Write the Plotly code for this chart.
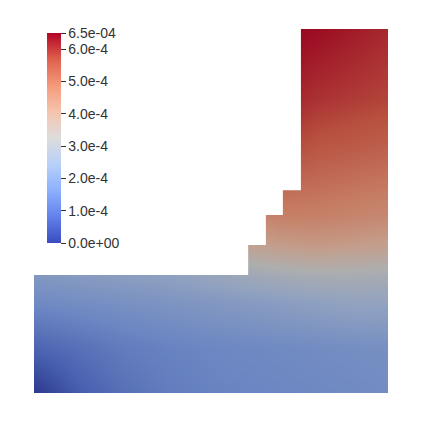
import plotly.graph_objects as go

# mesh nodes (domain width = 1)
x_nodes = [0.0, 0.125, 0.25, 0.375, 0.5, 0.6, 0.7, 0.8, 0.9, 1.0]
y_nodes = [0.0, 0.13, 0.26, 0.333, 0.42, 0.5, 0.6, 0.7, 0.83, 1.028]

# field values, units of 1e-4
field = [
    [0.0, 0.7, 1.15, 1.4, 1.55, 1.6, 1.65, 1.7, 1.75, 1.8],
    [0.9, 1.15, 1.4, 1.55, 1.65, 1.7, 1.75, 1.8, 1.85, 1.9],
    [1.75, 1.85, 1.95, 2.05, 2.15, 2.25, 2.35, 2.45, 2.55, 2.55],
    [2.15, 2.25, 2.35, 2.45, 2.65, 2.85, 3.0, 3.1, 3.1, 3.05],
    [2.6, 2.8, 3.0, 3.3, 3.6, 3.9, 4.1, 4.2, 4.1, 4.0],
    [3.2, 3.5, 3.8, 4.1, 4.4, 4.6, 4.8, 4.8, 4.7, 4.6],
    [4.0, 4.3, 4.6, 4.8, 5.0, 5.2, 5.3, 5.2, 5.1, 5.0],
    [4.6, 4.9, 5.2, 5.4, 5.5, 5.7, 5.8, 5.6, 5.5, 5.4],
    [5.2, 5.5, 5.7, 5.8, 5.9, 6.1, 6.2, 6.0, 5.9, 5.8],
    [5.8, 6.0, 6.2, 6.3, 6.4, 6.5, 6.5, 6.4, 6.25, 6.1],
]
z = [[v * 1e-4 for v in row] for row in field]

# outline of the cut-out (upper left, stairs)
stair_x = [0.605, 0.605, 0.655, 0.655, 0.703, 0.703, 0.754, 0.754]
stair_y = [0.333, 0.418, 0.418, 0.503, 0.503, 0.573, 0.573, 1.028]
top_y = 1.028

tick_vals = [0, 1e-4, 2e-4, 3e-4, 4e-4, 5e-4, 6e-4, 6.5e-4]
tick_text = ["0.0e+00", "1.0e-4", "2.0e-4", "3.0e-4", "4.0e-4", "5.0e-4", "6.0e-4", "6.5e-04"]
zmax = 6.5e-4

# ParaView "Cool to Warm"
cool_warm = [
    (0.0, (59, 76, 192)), (0.125, (98, 130, 234)), (0.25, (141, 176, 254)),
    (0.375, (184, 208, 249)), (0.5, (221, 221, 221)), (0.625, (245, 196, 173)),
    (0.75, (244, 154, 123)), (0.875, (222, 96, 77)), (1.0, (180, 4, 38)),
]


def scale(f0, f1):
    # f0 at the cool end, f1 at the warm end (fakes the surface shading)
    out = []
    for s, rgb in cool_warm:
        f = f0 + (f1 - f0) * s
        out.append([s, "rgb(%d,%d,%d)" % tuple(min(255, int(c * f)) for c in rgb)])
    return out


# page body has an 8px margin, so pixel positions are shifted back by 8
ox, oy = 26, 385   # pixel of the domain origin in the figure
px = 354           # pixels per unit

fig = go.Figure()

fig.add_trace(go.Heatmap(
    x=x_nodes, y=y_nodes, z=z, zsmooth="best",
    zmin=0, zmax=zmax, colorscale=scale(0.74, 0.84), showscale=False,
    hoverinfo="skip",
))

# colorbar with the unshaded map
fig.add_trace(go.Scatter(
    x=[None], y=[None], mode="markers", hoverinfo="skip",
    marker=dict(
        color=[0], cmin=0, cmax=zmax, colorscale=scale(1.0, 1.0), showscale=True,
        colorbar=dict(
            x=39 / 423, xanchor="left", xpad=0, ypad=0,
            y=1 - 25 / 423, yanchor="top", len=210 / 423, lenmode="fraction",
            thickness=14, outlinewidth=0,
            tickmode="array", tickvals=tick_vals, ticktext=tick_text,
            ticks="outside", ticklen=5, tickcolor="#333", tickwidth=1,
            tickfont=dict(family="Liberation Sans, Arial", size=14, color="#333"),
        ),
    ),
))

# white masks outside the domain
path = "M -0.3,%g " % stair_y[0]
for xs, ys in zip(stair_x, stair_y):
    path += "L %g,%g " % (xs, ys)
path += "L %g,1.4 L -0.3,1.4 Z" % stair_x[-1]
masks = [dict(type="path", path=path)]
masks += [
    dict(type="rect", x0=-0.3, x1=0, y0=-0.3, y1=1.4),
    dict(type="rect", x0=1.0, x1=1.3, y0=-0.3, y1=1.4),
    dict(type="rect", x0=-0.3, x1=1.3, y0=-0.3, y1=0),
    dict(type="rect", x0=-0.3, x1=1.3, y0=top_y, y1=1.4),
]
for m in masks:
    m.update(fillcolor="white", line=dict(width=0), layer="above",
             xref="x", yref="y")
fig.update_layout(shapes=masks)

fig.update_layout(
    width=423, height=423,
    margin=dict(l=0, r=0, t=0, b=0),
    paper_bgcolor="white", plot_bgcolor="white",
    showlegend=False,
    xaxis=dict(range=[-ox / px, (423 - ox) / px], visible=False, fixedrange=True),
    yaxis=dict(range=[-(423 - oy) / px, oy / px], visible=False, fixedrange=True),
)

fig.write_html("out.html")
